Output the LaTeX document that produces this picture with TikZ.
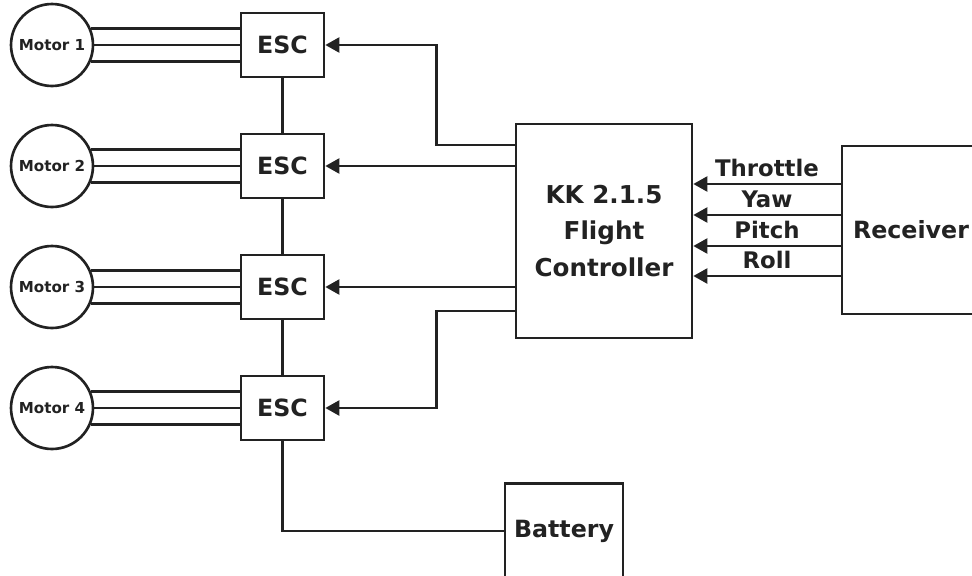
\documentclass[tikz,border=0pt]{standalone}
\usepackage{fontspec}
\setmainfont{DejaVu Sans}
\usetikzlibrary{arrows.meta,calc,positioning}
\definecolor{ink}{HTML}{222222}
\tikzset{>={Triangle[length=8pt,width=8.5pt]},line width=1.5pt,
  every node/.style={font=\bfseries\fontsize{13.5}{16}\selectfont,text=ink},
  wire/.style={draw=ink,line width=1.5pt},
  sig/.style={->,draw=ink,line width=1.5pt},
  motor/.style={circle,draw=ink,line width=1.5pt,minimum size=1.64cm,inner sep=0pt,
    font=\bfseries\fontsize{8.6}{10}\selectfont},
  escbox/.style={rectangle,draw=ink,line width=1.5pt,minimum width=1.66cm,minimum height=1.28cm},
  block/.style={rectangle,draw=ink,line width=1.5pt,align=center},
  chan/.style={anchor=base,yshift=4pt,font=\bfseries\fontsize{13}{15}\selectfont}}

\begin{document}
\begin{tikzpicture}[x=.02cm,y=-.02cm]
\path[use as bounding box] (0,0) rectangle (972,575);
% motors and their speed controllers
\foreach \i/\yy in {1/45,2/166,3/287,4/408}{
  \node[motor] (m\i) at (52,\yy) {Motor \i};
  \node[escbox] (esc\i) at (282.5,\yy) {ESC};
  \draw[wire] (m\i.east) -- (esc\i.west);
  \draw[wire] (m\i.23) -- (m\i.23 -| esc\i.west);
  \draw[wire] (m\i.-23) -- (m\i.-23 -| esc\i.west);
}
\draw[wire] (esc1) -- (esc2) (esc2) -- (esc3) (esc3) -- (esc4);
% controller, receiver, battery
\node[block,minimum width=3.52cm,minimum height=4.28cm,font=\bfseries\fontsize{14}{21}\selectfont] (fc) at (604,231) {KK 2.1.5\\Flight\\Controller};
\node[block,minimum width=2.76cm,minimum height=3.36cm] (rx) at (911,230) {Receiver};
\node[block,minimum width=2.36cm,minimum height=1.9cm] (bat) at (564,531) {Battery};
\draw[wire] (esc4.south) |- (bat.west);
% outputs to the ESCs
\draw[sig] (fc.west |- 0,145) -- ++(-78,0) |- (esc1);
\draw[sig] (fc.west |- esc2) -- (esc2);
\draw[sig] (fc.west |- esc3) -- (esc3);
\draw[sig] (fc.west |- 0,311) -- ++(-78,0) |- (esc4);
% receiver channels
\foreach \lab/\yy in {Throttle/184,Yaw/215,Pitch/246,Roll/276}
  \draw[sig] (rx.west |- 0,\yy) -- (fc.east |- 0,\yy) node[chan,midway] {\lab};
\end{tikzpicture}
\end{document}
